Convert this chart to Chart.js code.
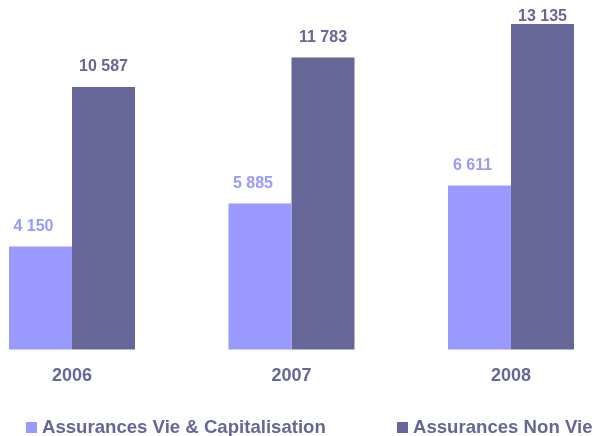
<!DOCTYPE html>
<html>
<head>
<meta charset="utf-8">
<script src="https://cdn.jsdelivr.net/npm/chart.js@4"></script>
<style>
  html, body { margin: 0; padding: 0; background: #fff; }
  #wrap { width: 593px; height: 436px; }
</style>
</head>
<body>
<div id="wrap"><canvas id="chart" width="593" height="436"></canvas></div>
<script>
// Data
const years = ['2006', '2007', '2008'];
const vieValues = [4150, 5885, 6611];
const nonVieValues = [10587, 11783, 13135];
const seriesNames = ['Assurances Vie & Capitalisation', 'Assurances Non Vie'];

const lightColor = '#9999FF';
const darkColor = '#666699';

// thousands with a space, like "10 587"
function fmt(v) {
  return String(v).replace(/\B(?=(\d{3})+(?!\d))/g, ' ');
}

// Value labels above the bars
const valueLabels = {
  id: 'valueLabels',
  afterDatasetsDraw(chart) {
    const ctx = chart.ctx;
    ctx.save();
    ctx.font = 'bold 16px "Liberation Sans", Arial, sans-serif';
    ctx.textAlign = 'center';
    ctx.textBaseline = 'middle';
    chart.data.datasets.forEach((ds, i) => {
      const meta = chart.getDatasetMeta(i);
      ctx.fillStyle = ds.backgroundColor;
      const shift = i === 0 ? -7 : 0;
      meta.data.forEach((bar, j) => {
        const y = Math.max(bar.y - 20, 17);
        ctx.fillText(fmt(ds.data[j]), bar.x + shift, y);
      });
    });
    ctx.restore();
  }
};

// Legend drawn at the bottom
const bottomLegend = {
  id: 'bottomLegend',
  afterDraw(chart) {
    const ctx = chart.ctx;
    const spots = [26, 397];
    ctx.save();
    ctx.font = 'bold 18.6px "Liberation Sans", Arial, sans-serif';
    ctx.textBaseline = 'middle';
    ctx.textAlign = 'left';
    chart.data.datasets.forEach((ds, i) => {
      const x = spots[i];
      ctx.fillStyle = ds.backgroundColor;
      ctx.fillRect(x, 422, 11, 11);
      ctx.fillStyle = darkColor;
      ctx.fillText(ds.label, x + 16, 428);
    });
    ctx.restore();
  }
};

new Chart(document.getElementById('chart'), {
  type: 'bar',
  data: {
    labels: years,
    datasets: [
      { label: seriesNames[0], data: vieValues, backgroundColor: lightColor, clip: false },
      { label: seriesNames[1], data: nonVieValues, backgroundColor: darkColor, clip: false }
    ]
  },
  options: {
    responsive: false,
    animation: false,
    layout: { padding: { left: 72, right: 82, top: 0, bottom: 33 } },
    datasets: {
      bar: { categoryPercentage: 0.574, barPercentage: 1.0 }
    },
    scales: {
      x: {
        offset: false,
        grid: { display: false, drawTicks: false },
        border: { display: false },
        ticks: {
          padding: 16,
          color: darkColor,
          font: { family: '"Liberation Sans", Arial, sans-serif', size: 18, weight: 'bold' }
        }
      },
      y: {
        display: false,
        min: 0,
        max: 14100
      }
    },
    plugins: {
      legend: { display: false },
      tooltip: { enabled: false }
    }
  },
  plugins: [valueLabels, bottomLegend]
});
</script>
</body>
</html>
